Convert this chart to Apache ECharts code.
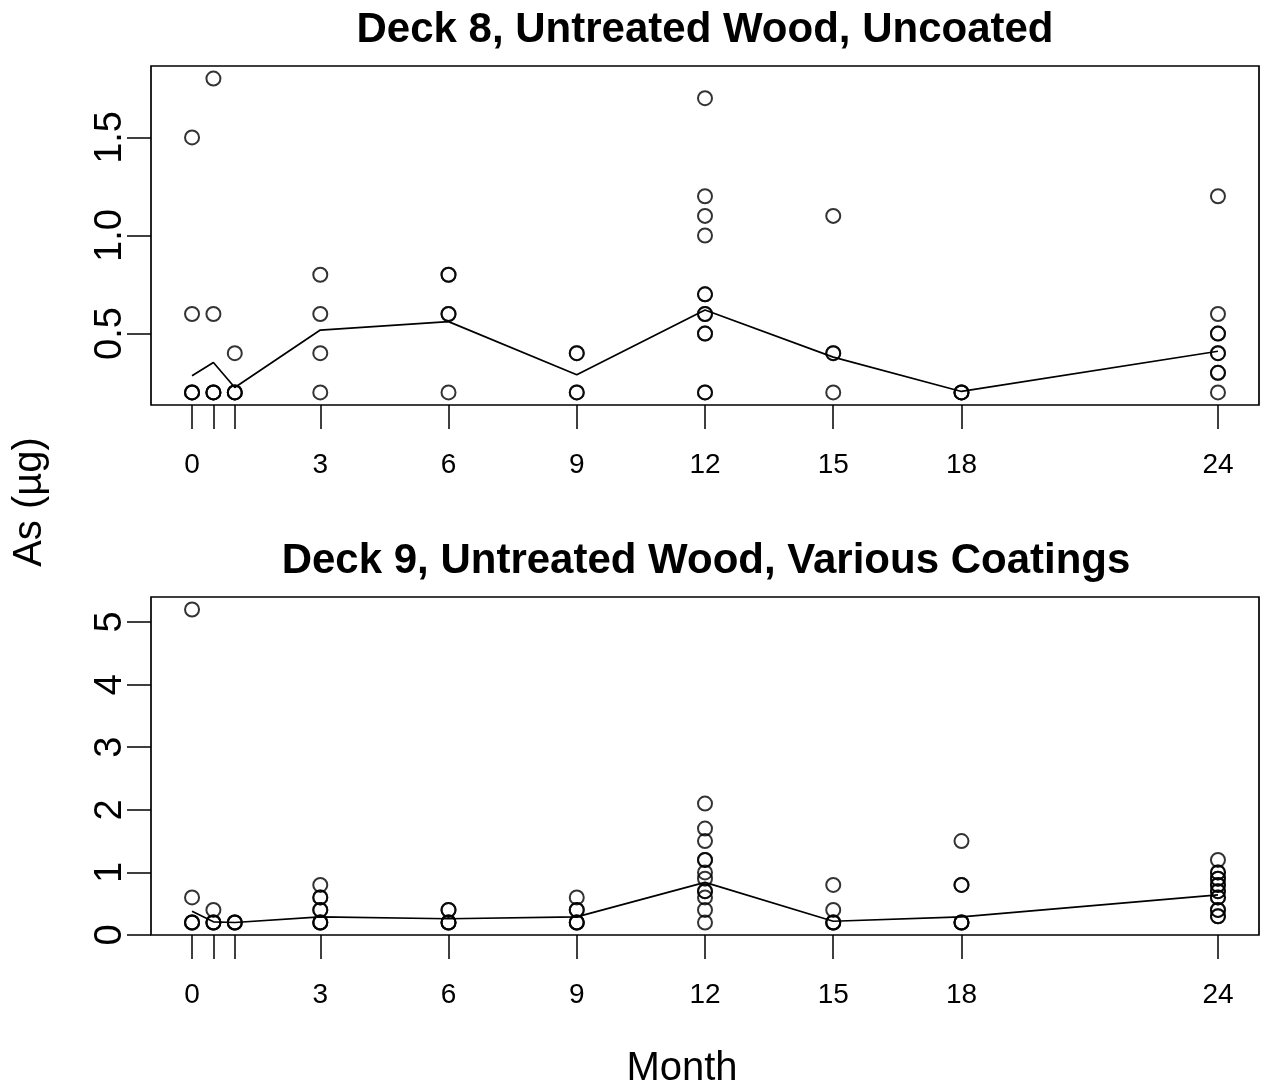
<!DOCTYPE html>
<html>
<head>
<meta charset="utf-8">
<script src="https://cdn.jsdelivr.net/npm/echarts@6/dist/echarts.min.js"></script>
<style>
  html, body { margin: 0; padding: 0; background: #fff; }
  #chart { width: 1270px; height: 1088px; }
</style>
</head>
<body>
<div id="chart"></div>
<script>
// ---- Data ----
const months = [0, 0.5, 1, 3, 6, 9, 12, 15, 18, 24];
const monthTickLabels = [0, 3, 6, 9, 12, 15, 18, 24];

// Deck 8 individual samples (repeated values = overplotted circles)
const deck8Month = [
  0, 0, 0, 0, 0,
  0.5, 0.5, 0.5, 0.5, 0.5,
  1, 1, 1, 1,
  3, 3, 3, 3,
  6, 6, 6, 6, 6,
  9, 9, 9, 9,
  12, 12, 12, 12, 12, 12, 12, 12, 12, 12, 12, 12,
  15, 15, 15, 15,
  18, 18, 18,
  24, 24, 24, 24, 24, 24, 24, 24, 24
];
const deck8As = [
  1.5, 0.6, 0.2, 0.2, 0.2,
  1.8, 0.6, 0.2, 0.2, 0.2,
  0.4, 0.2, 0.2, 0.2,
  0.8, 0.6, 0.4, 0.2,
  0.8, 0.8, 0.6, 0.6, 0.2,
  0.4, 0.4, 0.2, 0.2,
  1.7, 1.2, 1.1, 1.0, 0.7, 0.7, 0.6, 0.6, 0.5, 0.5, 0.2, 0.2,
  1.1, 0.4, 0.4, 0.2,
  0.2, 0.2, 0.2,
  1.2, 0.6, 0.5, 0.5, 0.4, 0.4, 0.3, 0.3, 0.2
];
const deck8Mean = [0.285, 0.353, 0.225, 0.518, 0.561, 0.29, 0.62, 0.38, 0.205, 0.41];

// Deck 9 individual samples
const deck9Month = [
  0, 0, 0, 0, 0,
  0.5, 0.5, 0.5, 0.5,
  1, 1, 1,
  3, 3, 3, 3, 3, 3, 3, 3,
  6, 6, 6, 6, 6,
  9, 9, 9, 9, 9, 9,
  12, 12, 12, 12, 12, 12, 12, 12, 12, 12, 12, 12,
  15, 15, 15, 15, 15,
  18, 18, 18, 18, 18, 18,
  24, 24, 24, 24, 24, 24, 24, 24, 24, 24, 24, 24, 24, 24, 24
];
const deck9As = [
  5.2, 0.6, 0.2, 0.2, 0.2,
  0.4, 0.2, 0.2, 0.2,
  0.2, 0.2, 0.2,
  0.8, 0.6, 0.6, 0.4, 0.4, 0.2, 0.2, 0.2,
  0.4, 0.4, 0.2, 0.2, 0.2,
  0.6, 0.4, 0.4, 0.2, 0.2, 0.2,
  2.1, 1.7, 1.5, 1.2, 1.2, 1.0, 0.9, 0.7, 0.7, 0.6, 0.4, 0.2,
  0.8, 0.4, 0.2, 0.2, 0.2,
  1.5, 0.8, 0.8, 0.2, 0.2, 0.2,
  1.2, 1.0, 1.0, 0.9, 0.9, 0.8, 0.8, 0.7, 0.7, 0.6, 0.6, 0.4, 0.4, 0.3, 0.3
];
const deck9Mean = [0.38, 0.21, 0.2, 0.29, 0.26, 0.29, 0.84, 0.22, 0.29, 0.64];

const deck8YTicks = [0.5, 1.0, 1.5];
const deck9YTicks = [0, 1, 2, 3, 4, 5];

const titles = ['Deck 8, Untreated Wood, Uncoated', 'Deck 9, Untreated Wood, Various Coatings'];
const yName = 'As (µg)';
const xName = 'Month';

// ---- Build chart ----
const FONT = '"Liberation Sans", Arial, Helvetica, sans-serif';
const chart = echarts.init(document.getElementById('chart'), null, { renderer: 'canvas' });

function pairs(xs, ys) { return xs.map((x, i) => [x, ys[i]]); }

function xAxisFor(gi) {
  return {
    gridIndex: gi, type: 'value', min: -0.96, max: 24.96,
    axisLine: { show: false, onZero: false }, splitLine: { show: false },
    axisTick: { show: true, inside: false, length: 24, customValues: months,
      lineStyle: { color: '#000', width: 1.5 } },
    axisLabel: { show: true, customValues: monthTickLabels, margin: 46,
      color: '#000', fontSize: 28, fontFamily: FONT }
  };
}
function yAxisFor(gi, min, max, ticks, dec) {
  return {
    gridIndex: gi, type: 'value', min: min, max: max,
    axisLine: { show: false, onZero: false }, splitLine: { show: false },
    axisTick: { show: true, inside: false, length: 24, customValues: ticks,
      lineStyle: { color: '#000', width: 1.5 } },
    axisLabel: { show: true, customValues: ticks, rotate: 90, margin: 21,
      color: '#000', fontSize: 38, fontFamily: FONT,
      formatter: v => Number(v).toFixed(dec) }
  };
}

const scatterStyle = {
  symbol: 'circle', symbolSize: 14,
  itemStyle: { color: 'transparent', borderColor: '#000', borderWidth: 2 },
  emphasis: { disabled: true }, silent: true
};
const lineStyle = {
  symbol: 'none', showSymbol: false,
  lineStyle: { color: '#000', width: 1.7 },
  emphasis: { disabled: true }, silent: true
};

const option = {
  animation: false,
  backgroundColor: '#fff',
  grid: [
    { left: 151, right: 11, top: 66, height: 339, show: true,
      borderColor: '#000', borderWidth: 1.7, backgroundColor: 'transparent' },
    { left: 151, right: 11, top: 597, height: 338, show: true,
      borderColor: '#000', borderWidth: 1.7, backgroundColor: 'transparent' }
  ],
  xAxis: [xAxisFor(0), xAxisFor(1)],
  yAxis: [
    yAxisFor(0, 0.136, 1.864, deck8YTicks, 1),
    yAxisFor(1, 0, 5.4, deck9YTicks, 0)
  ],
  series: [
    Object.assign({ type: 'scatter', xAxisIndex: 0, yAxisIndex: 0,
      data: pairs(deck8Month, deck8As) }, scatterStyle),
    Object.assign({ type: 'line', xAxisIndex: 0, yAxisIndex: 0,
      data: pairs(months, deck8Mean) }, lineStyle),
    Object.assign({ type: 'scatter', xAxisIndex: 1, yAxisIndex: 1,
      data: pairs(deck9Month, deck9As) }, scatterStyle),
    Object.assign({ type: 'line', xAxisIndex: 1, yAxisIndex: 1,
      data: pairs(months, deck9Mean) }, lineStyle)
  ],
  graphic: [
    { type: 'text', x: 705, y: 30, silent: true,
      style: { text: titles[0], fill: '#000', fontSize: 42, fontWeight: 'bold', fontFamily: FONT,
        textAlign: 'center', verticalAlign: 'middle', textVerticalAlign: 'middle' } },
    { type: 'text', x: 706, y: 561, silent: true,
      style: { text: titles[1], fill: '#000', fontSize: 42, fontWeight: 'bold', fontFamily: FONT,
        textAlign: 'center', verticalAlign: 'middle', textVerticalAlign: 'middle' } },
    { type: 'text', x: 30, y: 502, rotation: Math.PI / 2, silent: true,
      style: { text: yName, fill: '#000', fontSize: 40, fontFamily: FONT,
        textAlign: 'center', verticalAlign: 'middle', textVerticalAlign: 'middle' } },
    { type: 'text', x: 682, y: 1069, silent: true,
      style: { text: xName, fill: '#000', fontSize: 40, fontFamily: FONT,
        textAlign: 'center', verticalAlign: 'middle', textVerticalAlign: 'middle' } }
  ]
};
chart.setOption(option);
</script>
</body>
</html>
